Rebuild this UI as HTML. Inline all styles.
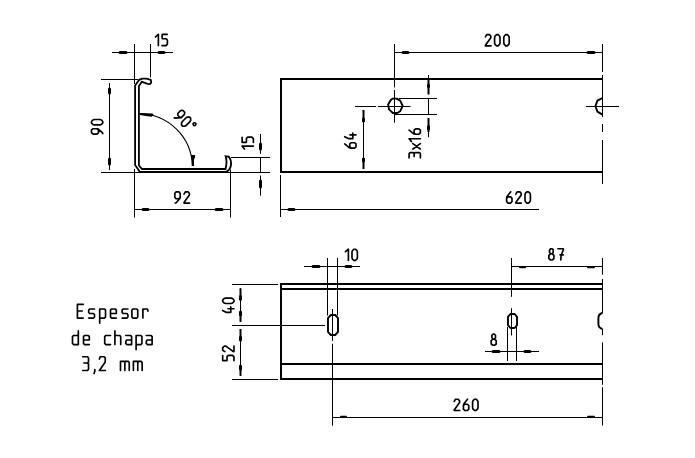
<!DOCTYPE html>
<html><head><meta charset="utf-8"><style>html,body{margin:0;padding:0;background:#fff;overflow:hidden;font-family:"Liberation Sans",sans-serif}svg{display:block}</style></head>
<body><svg width="695" height="458" viewBox="0 0 695 458">
<rect width="695" height="458" fill="#fff"/>
<g stroke="#000" fill="none" stroke-linecap="butt"><line x1="134.5" y1="44" x2="134.5" y2="84" stroke-width="1.0"/><line x1="150.5" y1="44" x2="150.5" y2="77.5" stroke-width="1.0"/><line x1="112" y1="52.5" x2="173" y2="52.5" stroke-width="1.0"/><line x1="120" y1="52.5" x2="126" y2="52.5" stroke-width="3.0" stroke-linecap="round"/><line x1="159" y1="52.5" x2="164" y2="52.5" stroke-width="3.0" stroke-linecap="round"/><line x1="101" y1="79.5" x2="138" y2="79.5" stroke-width="1.0"/><line x1="101" y1="172.5" x2="140" y2="172.5" stroke-width="1.0"/><line x1="109.5" y1="83" x2="109.5" y2="170" stroke-width="1.0"/><line x1="109.5" y1="89" x2="109.5" y2="93" stroke-width="3.0" stroke-linecap="round"/><line x1="109.5" y1="159" x2="109.5" y2="164" stroke-width="3.0" stroke-linecap="round"/><line x1="134.5" y1="169" x2="134.5" y2="217.5" stroke-width="1.0"/><line x1="230.5" y1="169.6" x2="230.5" y2="217.5" stroke-width="1.0"/><line x1="134.5" y1="209.5" x2="230.5" y2="209.5" stroke-width="1.0"/><line x1="143" y1="209.5" x2="148" y2="209.5" stroke-width="3.0" stroke-linecap="round"/><line x1="216" y1="209.5" x2="222" y2="209.5" stroke-width="3.0" stroke-linecap="round"/><line x1="231" y1="157.5" x2="270" y2="157.5" stroke-width="1.0"/><line x1="226" y1="172.5" x2="270" y2="172.5" stroke-width="1.0"/><line x1="260.5" y1="134" x2="260.5" y2="153.7" stroke-width="1.0"/><line x1="260.5" y1="157" x2="260.5" y2="172.5" stroke-width="1.0"/><line x1="260.5" y1="175.5" x2="260.5" y2="195.7" stroke-width="1.0"/><line x1="260.5" y1="144" x2="260.5" y2="149" stroke-width="3.0" stroke-linecap="round"/><line x1="260.5" y1="181" x2="260.5" y2="187" stroke-width="3.0" stroke-linecap="round"/><path d="M139.5,113.7 A53.3,53.3 0 0 1 192.3,166" fill="none" stroke-width="1.15"/><path d="M139.6,112.9 L152.6,113.6 L153.4,114.6 L151.8,116.8 L146,116 L140,114.9 Z" fill="#000" stroke="none"/><path d="M191,155 H195 V158.6 H194 V166 H192 V158.6 H191 Z" fill="#000" stroke="none"/><path fill="none" stroke-width="1.8" stroke-linejoin="miter" stroke-miterlimit="2" d="M151.2,82.6 L150.8,79.9 L146.5,78.6 L142.2,78.6 L139.2,79.8 L135.1,85.5 L135.1,165 L140,172 L225.5,172 Q230,171 231,165 Q231.5,160 228.8,156.5 L225.6,156.3 Q227.5,162 225.5,169 L142,169 L138.9,165.5 L138.9,86 L141.8,81.8 L143.6,82.3 L147.5,83.9 L149.9,84.1 L151.2,82.6 Z"/><line x1="280" y1="79" x2="603" y2="79" stroke-width="2"/><line x1="280" y1="172" x2="603" y2="172" stroke-width="2"/><line x1="281" y1="78" x2="281" y2="173" stroke-width="2"/><line x1="602.5" y1="44" x2="602.5" y2="72" stroke-width="1.0"/><line x1="602.5" y1="75" x2="602.5" y2="117" stroke-width="1.0"/><line x1="602.5" y1="124" x2="602.5" y2="132" stroke-width="1.0"/><line x1="602.5" y1="140" x2="602.5" y2="184" stroke-width="1.0"/><path d="M392.5,98.6 L396.6,98.6 L400.2,100.6 L402.7,106 L400.2,111.2 L397.3,113 L392.9,113 L389,109.4 L388.1,104.4 L390.6,100.3 Z" fill="none" stroke-width="1.9" stroke-linejoin="round"/><path d="M602.5,98 L597.4,100.6 L595.4,106.2 L597.4,111.6 L602.5,114.6" fill="none" stroke-width="1.9" stroke-linejoin="round"/><line x1="586" y1="106.5" x2="619" y2="106.5" stroke-width="1.0"/><line x1="394.5" y1="44" x2="394.5" y2="87.5" stroke-width="1.0"/><line x1="394.5" y1="90" x2="394.5" y2="122.7" stroke-width="1.0"/><line x1="355" y1="106.5" x2="376" y2="106.5" stroke-width="1.0"/><line x1="378" y1="106.5" x2="410.5" y2="106.5" stroke-width="1.0"/><line x1="399" y1="98.5" x2="437" y2="98.5" stroke-width="1.0"/><line x1="395" y1="114.5" x2="437" y2="114.5" stroke-width="1.0"/><line x1="428.5" y1="75" x2="428.5" y2="79" stroke-width="1.0"/><line x1="428.5" y1="79" x2="428.5" y2="94.5" stroke-width="2"/><line x1="428.5" y1="85" x2="428.5" y2="86.5" stroke-width="3" stroke-linecap="round"/><line x1="428.5" y1="98" x2="428.5" y2="114.3" stroke-width="1.0"/><line x1="428.5" y1="118" x2="428.5" y2="132" stroke-width="2"/><line x1="428.5" y1="126.5" x2="428.5" y2="128.8" stroke-width="3" stroke-linecap="round"/><line x1="428.5" y1="132" x2="428.5" y2="137.2" stroke-width="1.0"/><line x1="363.5" y1="110" x2="363.5" y2="122" stroke-width="2"/><line x1="363.5" y1="119" x2="363.5" y2="121" stroke-width="3" stroke-linecap="round"/><line x1="363.5" y1="122" x2="363.5" y2="158" stroke-width="1.0"/><line x1="363.5" y1="158" x2="363.5" y2="169" stroke-width="2"/><line x1="363.5" y1="159" x2="363.5" y2="161" stroke-width="3" stroke-linecap="round"/><line x1="394.5" y1="52.5" x2="602.5" y2="52.5" stroke-width="1.0"/><line x1="403" y1="52.5" x2="408" y2="52.5" stroke-width="3.0" stroke-linecap="round"/><line x1="588" y1="52.5" x2="594" y2="52.5" stroke-width="3.0" stroke-linecap="round"/><line x1="280.5" y1="175" x2="280.5" y2="217" stroke-width="1.0"/><line x1="280.5" y1="209.5" x2="539" y2="209.5" stroke-width="1.0"/><line x1="289" y1="209.5" x2="294" y2="209.5" stroke-width="3.0" stroke-linecap="round"/><line x1="280" y1="284" x2="603" y2="284" stroke-width="2"/><line x1="280" y1="289" x2="603" y2="289" stroke-width="2"/><line x1="280" y1="364" x2="603" y2="364" stroke-width="2"/><line x1="280" y1="379" x2="603" y2="379" stroke-width="2"/><line x1="281" y1="283" x2="281" y2="380" stroke-width="2"/><line x1="602.5" y1="258" x2="602.5" y2="274.7" stroke-width="1.0"/><line x1="602.5" y1="279" x2="602.5" y2="313" stroke-width="1.0"/><line x1="602.5" y1="329" x2="602.5" y2="335.2" stroke-width="1.0"/><line x1="602.5" y1="342.4" x2="602.5" y2="384.8" stroke-width="1.0"/><line x1="602.5" y1="387.2" x2="602.5" y2="425.5" stroke-width="1.0"/><path d="M602.5,313 Q598.4,314 598.4,318 V324 Q598.4,328 602.5,329" fill="none" stroke-width="1.9"/><path d="M330.8,315 H335.2 L338,318.2 V331.8 L335.2,335 H330.8 L328,331.8 V318.2 Z" fill="none" stroke-width="1.9" stroke-linejoin="round"/><path d="M510.4,314 H514.6 L517,316.8 V325.2 L514.6,328 H510.4 L508,325.2 V316.8 Z" fill="none" stroke-width="1.9" stroke-linejoin="round"/><line x1="332.5" y1="309" x2="332.5" y2="341" stroke-width="1.0"/><line x1="332.5" y1="343.8" x2="332.5" y2="425.7" stroke-width="1.0"/><line x1="327.5" y1="258" x2="327.5" y2="315.5" stroke-width="1.0"/><line x1="337.5" y1="258" x2="337.5" y2="315.5" stroke-width="1.0"/><line x1="304" y1="266.5" x2="360" y2="266.5" stroke-width="1.0"/><line x1="313" y1="266.5" x2="319" y2="266.5" stroke-width="3.0" stroke-linecap="round"/><line x1="346" y1="266.5" x2="351" y2="266.5" stroke-width="3.0" stroke-linecap="round"/><line x1="232" y1="284.5" x2="278" y2="284.5" stroke-width="1.0"/><line x1="232" y1="325.5" x2="325" y2="325.5" stroke-width="1.0"/><line x1="232" y1="379.5" x2="278" y2="379.5" stroke-width="1.0"/><line x1="240.5" y1="288.2" x2="240.5" y2="321.8" stroke-width="1.0"/><line x1="240.5" y1="288.2" x2="240.5" y2="296" stroke-width="2"/><line x1="240.5" y1="296.4" x2="240.5" y2="299.2" stroke-width="3.0" stroke-linecap="round"/><line x1="240.5" y1="315" x2="240.5" y2="321.8" stroke-width="2"/><line x1="240.5" y1="312" x2="240.5" y2="314.8" stroke-width="3.0" stroke-linecap="round"/><line x1="240.5" y1="329" x2="240.5" y2="375.9" stroke-width="1.0"/><line x1="240.5" y1="329" x2="240.5" y2="337" stroke-width="2"/><line x1="240.5" y1="337.2" x2="240.5" y2="340" stroke-width="3.0" stroke-linecap="round"/><line x1="240.5" y1="369" x2="240.5" y2="375.9" stroke-width="2"/><line x1="240.5" y1="366" x2="240.5" y2="368.9" stroke-width="3.0" stroke-linecap="round"/><line x1="511.5" y1="308.2" x2="511.5" y2="335.5" stroke-width="1.0"/><line x1="511.5" y1="258" x2="511.5" y2="296.8" stroke-width="1.0"/><line x1="511.5" y1="266.5" x2="602.5" y2="266.5" stroke-width="1.0"/><line x1="520" y1="267.3" x2="525" y2="267.3" stroke-width="2" stroke-linecap="round"/><line x1="588" y1="267.3" x2="594" y2="267.3" stroke-width="2" stroke-linecap="round"/><line x1="507.5" y1="327" x2="507.5" y2="361" stroke-width="1.0"/><line x1="516.5" y1="327" x2="516.5" y2="361" stroke-width="1.0"/><line x1="485" y1="351.5" x2="539" y2="351.5" stroke-width="1.0"/><line x1="493" y1="351.5" x2="499" y2="351.5" stroke-width="3.0" stroke-linecap="round"/><line x1="525" y1="351.5" x2="530" y2="351.5" stroke-width="3.0" stroke-linecap="round"/><line x1="332.5" y1="417.5" x2="602.5" y2="417.5" stroke-width="1.0"/><line x1="341" y1="416.7" x2="346" y2="416.7" stroke-width="2" stroke-linecap="round"/><line x1="588" y1="416.7" x2="594" y2="416.7" stroke-width="2" stroke-linecap="round"/></g>
<g stroke="#000" fill="none" stroke-width="1.65" stroke-linecap="round" stroke-linejoin="round" vector-effect="non-scaling-stroke"><g transform="translate(155.50,34.40) rotate(0)"><path transform="translate(0.00,0.00) scale(0.9,0.94)" vector-effect="non-scaling-stroke" d="M0,2.6 L3.2,0 V12"/><path transform="translate(6.50,0.00) scale(0.9,0.94)" vector-effect="non-scaling-stroke" d="M5.8,0 H0.2 V4.6 H4.6 L6,6 V10.4 L4.4,12 H0"/></g><g transform="translate(91.50,134.10) rotate(-90)"><path transform="translate(0.00,0.00) scale(0.9,0.94)" vector-effect="non-scaling-stroke" d="M6,5.8 L4.6,7.4 H1.4 L0,5.8 V1.8 L1.4,0 H4.6 L6,1.8 V6.6 L1.6,11.6 L0.6,12"/><path transform="translate(9.20,0.00) scale(0.9,0.94)" vector-effect="non-scaling-stroke" d="M2.2,0 H3.8 L5.5,1.5 L6,3 V9 L5.5,10.5 L3.8,12 H2.2 L0.5,10.5 L0,9 V3 L0.5,1.5 Z"/></g><g transform="translate(242.10,149.00) rotate(-90)"><path transform="translate(0.00,0.00) scale(0.9,0.94)" vector-effect="non-scaling-stroke" d="M0,2.6 L3.2,0 V12"/><path transform="translate(6.50,0.00) scale(0.9,0.94)" vector-effect="non-scaling-stroke" d="M5.8,0 H0.2 V4.6 H4.6 L6,6 V10.4 L4.4,12 H0"/></g><g transform="translate(174.80,191.80) rotate(0)"><path transform="translate(0.00,0.00) scale(0.9,0.94)" vector-effect="non-scaling-stroke" d="M6,5.8 L4.6,7.4 H1.4 L0,5.8 V1.8 L1.4,0 H4.6 L6,1.8 V6.6 L1.6,11.6 L0.6,12"/><path transform="translate(9.20,0.00) scale(0.9,0.94)" vector-effect="non-scaling-stroke" d="M0,2.4 L1.5,0 H4.5 L6,1.8 V3.4 L0,11.4 V12 H6.2"/></g><g transform="translate(485.40,34.60) rotate(0)"><path transform="translate(0.00,0.00) scale(0.9,0.94)" vector-effect="non-scaling-stroke" d="M0,2.4 L1.5,0 H4.5 L6,1.8 V3.4 L0,11.4 V12 H6.2"/><path transform="translate(9.20,0.00) scale(0.9,0.94)" vector-effect="non-scaling-stroke" d="M2.2,0 H3.8 L5.5,1.5 L6,3 V9 L5.5,10.5 L3.8,12 H2.2 L0.5,10.5 L0,9 V3 L0.5,1.5 Z"/><path transform="translate(18.40,0.00) scale(0.9,0.94)" vector-effect="non-scaling-stroke" d="M2.2,0 H3.8 L5.5,1.5 L6,3 V9 L5.5,10.5 L3.8,12 H2.2 L0.5,10.5 L0,9 V3 L0.5,1.5 Z"/></g><g transform="translate(344.70,148.10) rotate(-90)"><path transform="translate(0.00,0.00) scale(0.9,0.94)" vector-effect="non-scaling-stroke" d="M4.6,0 L0.4,5 L0,6.8 V10.4 L1.4,12 H4.6 L6,10.4 V7 L4.6,5.4 H1.4 L0.2,6.8"/><path transform="translate(9.20,0.00) scale(0.9,0.94)" vector-effect="non-scaling-stroke" d="M2.5,0 L0.3,4 V8.6 H6.4 M4.4,5.6 V12"/></g><g transform="translate(409.10,158.00) rotate(-90)"><path transform="translate(0.00,0.00) scale(0.9,0.94)" vector-effect="non-scaling-stroke" d="M0,0 H5 L6,1 V4.4 L5,5.4 H1.6 M5,5.4 L6,6.4 V11 L5,12 H0"/><path transform="translate(9.00,0.00) scale(0.9,0.94)" vector-effect="non-scaling-stroke" d="M0,4 L6,12 M6,4 L0,12"/><path transform="translate(16.40,0.00) scale(0.9,0.94)" vector-effect="non-scaling-stroke" d="M0,2.6 L3.2,0 V12"/><path transform="translate(23.80,0.00) scale(0.9,0.94)" vector-effect="non-scaling-stroke" d="M4.6,0 L0.4,5 L0,6.8 V10.4 L1.4,12 H4.6 L6,10.4 V7 L4.6,5.4 H1.4 L0.2,6.8"/></g><g transform="translate(506.60,191.80) rotate(0)"><path transform="translate(0.00,0.00) scale(0.9,0.94)" vector-effect="non-scaling-stroke" d="M4.6,0 L0.4,5 L0,6.8 V10.4 L1.4,12 H4.6 L6,10.4 V7 L4.6,5.4 H1.4 L0.2,6.8"/><path transform="translate(9.20,0.00) scale(0.9,0.94)" vector-effect="non-scaling-stroke" d="M0,2.4 L1.5,0 H4.5 L6,1.8 V3.4 L0,11.4 V12 H6.2"/><path transform="translate(18.40,0.00) scale(0.9,0.94)" vector-effect="non-scaling-stroke" d="M2.2,0 H3.8 L5.5,1.5 L6,3 V9 L5.5,10.5 L3.8,12 H2.2 L0.5,10.5 L0,9 V3 L0.5,1.5 Z"/></g><g transform="translate(345.50,249.20) rotate(0)"><path transform="translate(0.00,0.00) scale(0.9,0.94)" vector-effect="non-scaling-stroke" d="M0,2.6 L3.2,0 V12"/><path transform="translate(6.50,0.00) scale(0.9,0.94)" vector-effect="non-scaling-stroke" d="M2.2,0 H3.8 L5.5,1.5 L6,3 V9 L5.5,10.5 L3.8,12 H2.2 L0.5,10.5 L0,9 V3 L0.5,1.5 Z"/></g><g transform="translate(548.70,248.70) rotate(0)"><path transform="translate(0.00,0.00) scale(0.9,0.94)" vector-effect="non-scaling-stroke" d="M2.4,0 H3.6 L5,1.3 V4 L3.8,5.4 H2.2 L1,4 V1.3 Z M2.2,5.4 H3.8 L5.8,7 V10.6 L3.8,12 H2.2 L0.2,10.6 V7 Z"/><path transform="translate(9.20,0.00) scale(0.9,0.94)" vector-effect="non-scaling-stroke" d="M0,0 H6 V1.4 L3.6,6.8 L3.2,12 M2.4,6.6 H6"/></g><g transform="translate(222.70,312.70) rotate(-90)"><path transform="translate(0.00,0.00) scale(0.9,0.94)" vector-effect="non-scaling-stroke" d="M2.5,0 L0.3,4 V8.6 H6.4 M4.4,5.6 V12"/><path transform="translate(9.20,0.00) scale(0.9,0.94)" vector-effect="non-scaling-stroke" d="M2.2,0 H3.8 L5.5,1.5 L6,3 V9 L5.5,10.5 L3.8,12 H2.2 L0.5,10.5 L0,9 V3 L0.5,1.5 Z"/></g><g transform="translate(222.70,360.80) rotate(-90)"><path transform="translate(0.00,0.00) scale(0.9,0.94)" vector-effect="non-scaling-stroke" d="M5.8,0 H0.2 V4.6 H4.6 L6,6 V10.4 L4.4,12 H0"/><path transform="translate(9.20,0.00) scale(0.9,0.94)" vector-effect="non-scaling-stroke" d="M0,2.4 L1.5,0 H4.5 L6,1.8 V3.4 L0,11.4 V12 H6.2"/></g><g transform="translate(491.00,334.00) rotate(0)"><path transform="translate(0.00,0.00) scale(0.9,0.94)" vector-effect="non-scaling-stroke" d="M2.4,0 H3.6 L5,1.3 V4 L3.8,5.4 H2.2 L1,4 V1.3 Z M2.2,5.4 H3.8 L5.8,7 V10.6 L3.8,12 H2.2 L0.2,10.6 V7 Z"/></g><g transform="translate(454.20,399.20) rotate(0)"><path transform="translate(0.00,0.00) scale(0.9,0.94)" vector-effect="non-scaling-stroke" d="M0,2.4 L1.5,0 H4.5 L6,1.8 V3.4 L0,11.4 V12 H6.2"/><path transform="translate(9.20,0.00) scale(0.9,0.94)" vector-effect="non-scaling-stroke" d="M4.6,0 L0.4,5 L0,6.8 V10.4 L1.4,12 H4.6 L6,10.4 V7 L4.6,5.4 H1.4 L0.2,6.8"/><path transform="translate(18.40,0.00) scale(0.9,0.94)" vector-effect="non-scaling-stroke" d="M2.2,0 H3.8 L5.5,1.5 L6,3 V9 L5.5,10.5 L3.8,12 H2.2 L0.5,10.5 L0,9 V3 L0.5,1.5 Z"/></g><g transform="translate(181.80,109.40) rotate(45)"><path transform="translate(0.00,0.00) scale(0.9,0.94)" vector-effect="non-scaling-stroke" d="M6,5.8 L4.6,7.4 H1.4 L0,5.8 V1.8 L1.4,0 H4.6 L6,1.8 V6.6 L1.6,11.6 L0.6,12"/><path transform="translate(9.00,0.00) scale(0.9,0.94)" vector-effect="non-scaling-stroke" d="M2.2,0 H3.8 L5.5,1.5 L6,3 V9 L5.5,10.5 L3.8,12 H2.2 L0.5,10.5 L0,9 V3 L0.5,1.5 Z"/><circle cx="19.44" cy="1.50" r="1.44"/></g><path transform="translate(77.40,304.40) scale(0.97,1.14)" vector-effect="non-scaling-stroke" d="M6,0 H0 V12 H6 M0,5.8 H5"/><path transform="translate(88.70,304.40) scale(0.97,1.14)" vector-effect="non-scaling-stroke" d="M6,4 H1 L0,5 V7 L1,8 H5 L6,9 V11 L5,12 H0"/><path transform="translate(99.70,304.40) scale(0.97,1.14)" vector-effect="non-scaling-stroke" d="M0,16.5 V4 H5 L6,5 V11 L5,12 H0"/><path transform="translate(110.50,304.40) scale(0.97,1.14)" vector-effect="non-scaling-stroke" d="M6,12 H1 L0,11 V5 L1,4 H5 L6,5 V8 H0"/><path transform="translate(122.10,304.40) scale(0.97,1.14)" vector-effect="non-scaling-stroke" d="M6,4 H1 L0,5 V7 L1,8 H5 L6,9 V11 L5,12 H0"/><path transform="translate(131.90,304.40) scale(0.97,1.14)" vector-effect="non-scaling-stroke" d="M1,4 H5 L6,5 V11 L5,12 H1 L0,11 V5 Z"/><path transform="translate(142.90,304.40) scale(0.97,1.14)" vector-effect="non-scaling-stroke" d="M0,12 V4 M0,5 L1,4 H4.4 L5.2,5 V6"/><path transform="translate(72.50,330.90) scale(0.97,1.14)" vector-effect="non-scaling-stroke" d="M6,0 V12 H1 L0,11 V5 L1,4 H6"/><path transform="translate(83.50,330.90) scale(0.97,1.14)" vector-effect="non-scaling-stroke" d="M6,12 H1 L0,11 V5 L1,4 H5 L6,5 V8 H0"/><path transform="translate(104.70,330.90) scale(0.97,1.14)" vector-effect="non-scaling-stroke" d="M6,4 H1 L0,5 V11 L1,12 H6"/><path transform="translate(114.90,330.90) scale(0.97,1.14)" vector-effect="non-scaling-stroke" d="M0,0 V12 M0,4 H5 L6,5 V12"/><path transform="translate(125.80,330.90) scale(0.97,1.14)" vector-effect="non-scaling-stroke" d="M0,4 H5 L6,5 V12 H1 L0,11 V9 L1,8 H6"/><path transform="translate(136.10,330.90) scale(0.97,1.14)" vector-effect="non-scaling-stroke" d="M0,16.5 V4 H5 L6,5 V11 L5,12 H0"/><path transform="translate(146.30,330.90) scale(0.97,1.14)" vector-effect="non-scaling-stroke" d="M0,4 H5 L6,5 V12 H1 L0,11 V9 L1,8 H6"/><path transform="translate(82.70,356.80) scale(0.97,1.14)" vector-effect="non-scaling-stroke" d="M0,0 H5 L6,1 V4.4 L5,5.4 H1.2 M5,5.4 L6,6.4 V11 L5,12 H0"/><path transform="translate(93.50,356.80) scale(0.97,1.14)" vector-effect="non-scaling-stroke" d="M1.4,11.2 V12.4 L0.6,14.6"/><path transform="translate(99.40,356.80) scale(0.97,1.14)" vector-effect="non-scaling-stroke" d="M0,2 L0.8,0 H5 L6,1 V4.6 L0,12 H6.2"/><path transform="translate(120.50,356.80) scale(0.97,1.14)" vector-effect="non-scaling-stroke" d="M0,12 V4 H8 L9,5 V12 M4.5,4 V12"/><path transform="translate(133.40,356.80) scale(0.97,1.14)" vector-effect="non-scaling-stroke" d="M0,12 V4 H8 L9,5 V12 M4.5,4 V12"/></g>
</svg></body></html>
